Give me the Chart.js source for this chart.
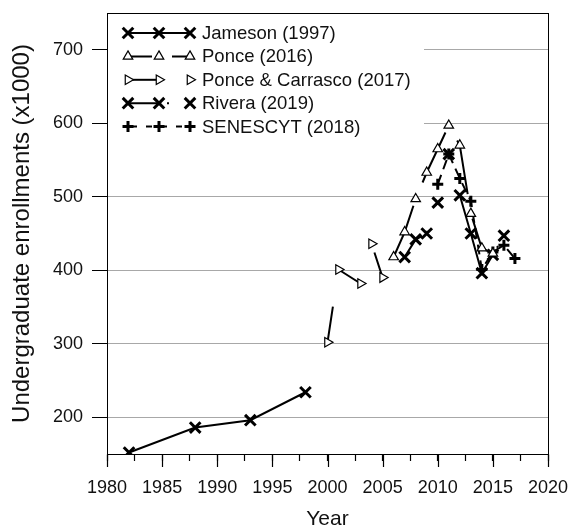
<!DOCTYPE html>
<html>
<head>
<meta charset="utf-8">
<script src="https://cdn.jsdelivr.net/npm/chart.js@4.4.1/dist/chart.umd.min.js"></script>
<style>
  html, body { margin: 0; padding: 0; background: #fff; }
  #wrap { width: 571px; height: 532px; }
</style>
</head>
<body>
<div id="wrap"><canvas id="cvs" width="571" height="532"></canvas></div>
<script>
// values (enrollments x1000)
const jamesonYears = [1982, 1988, 1993, 1998];
const jamesonValues = [152, 186, 196, 234];

const ponceYears = [2006, 2007, 2008, 2009, 2010, 2011, 2012, 2013, 2014, 2015];
const ponceValues = [418, 452, 497, 533, 565, 597, 570, 477, 430, 423];

const carrascoYears = [2000, 2001, 2003, 2004, 2005];
const carrascoValues = [302, 401, 382, 436, 390];

const riveraYears = [2007, 2008, 2009, 2010, 2011, 2012, 2013, 2014, 2015, 2016];
const riveraValues = [418, 442, 450, 492, 558, 502, 450, 396, 421, 447];

const senescytYears = [2010, 2011, 2012, 2013, 2014, 2015, 2016, 2017];
const senescytValues = [517, 558, 525, 494, 401, 425, 434, 416];

const yTicks = [200, 300, 400, 500, 600, 700];

const font = "'Liberation Sans', Arial, sans-serif";

function pts(xs, ys) {
    return xs.map((x, i) => ({ x: x, y: ys[i] }));
}

function line(label, xs, ys, extra) {
    return Object.assign({
        label: label,
        data: pts(xs, ys),
        borderColor: '#000',
        borderWidth: 2,
        pointBorderColor: '#000',
        pointBackgroundColor: '#fff',
        pointHoverRadius: 0,
        tension: 0,
        fill: false
    }, extra);
}

const datasets = [
    line('Jameson (1997)', jamesonYears, jamesonValues, {
        pointStyle: 'crossRot', pointRadius: 7.5, pointBorderWidth: 3,
        borderDash: [], legendDash: []
    }),
    line('Ponce (2016)', ponceYears, ponceValues, {
        pointStyle: 'triangle', pointRadius: 5.5, pointBorderWidth: 1.2,
        borderDash: [55, 25], legendDash: [24, 20]
    }),
    line('Ponce & Carrasco (2017)', carrascoYears, carrascoValues, {
        pointStyle: 'triangle', pointRotation: 90, pointRadius: 5.5, pointBorderWidth: 1.2,
        borderDash: [36, 38, 26, 50], legendDash: [31, 40]
    }),
    line('Rivera (2019)', riveraYears, riveraValues, {
        pointStyle: 'crossRot', pointRadius: 7.5, pointBorderWidth: 3,
        borderDash: [103, 6, 2, 124], borderDashOffset: 75, legendDash: [30, 9, 2, 30]
    }),
    line('SENESCYT (2018)', senescytYears, senescytValues, {
        pointStyle: 'cross', pointRadius: 5.5, pointBorderWidth: 3,
        borderDash: [10, 6], legendDash: [6, 9], legendOffset: -3
    })
];

// white legend box in the upper left corner of the plot
const boxLegend = {
    id: 'boxLegend',
    beforeDatasetsDraw(chart) {
        const ctx = chart.ctx;
        const a = chart.chartArea;
        ctx.save();
        ctx.fillStyle = '#fff';
        ctx.fillRect(a.left + 1, a.top + 1, 423 - a.left, 140 - a.top);
        chart.data.datasets.forEach((ds, i) => {
            const y = 33 + i * 23.4;
            ctx.strokeStyle = '#000';
            ctx.lineWidth = 2;
            ctx.setLineDash(ds.legendDash);
            ctx.lineDashOffset = ds.legendOffset || 0;
            ctx.beginPath();
            ctx.moveTo(128, y);
            ctx.lineTo(190, y);
            ctx.stroke();
            ctx.setLineDash([]);
            [128, 159, 190].forEach(x => {
                ctx.fillStyle = '#fff';
                ctx.lineWidth = ds.pointBorderWidth;
                Chart.helpers.drawPoint(ctx, {
                    pointStyle: ds.pointStyle,
                    radius: ds.pointRadius,
                    rotation: ds.pointRotation || 0,
                    borderWidth: ds.pointBorderWidth
                }, x, y);
            });
            ctx.fillStyle = '#111';
            ctx.font = '18.5px ' + font;
            ctx.textBaseline = 'middle';
            ctx.textAlign = 'left';
            ctx.fillText(ds.label, 202, y + 1);
        });
        ctx.restore();
    }
};

// long ticks every 5 years and the closed frame
const frame = {
    id: 'frame',
    afterDraw(chart) {
        const sx = chart.scales.x;
        const a = chart.chartArea;
        const ctx = chart.ctx;
        ctx.save();
        ctx.strokeStyle = '#000';
        ctx.lineWidth = 1.2;
        sx.ticks.forEach(t => {
            if (t.value % 5 !== 0) return;
            const px = Math.round(sx.getPixelForValue(t.value)) + 0.5;
            ctx.beginPath();
            ctx.moveTo(px, a.bottom);
            ctx.lineTo(px, a.bottom + 13);
            ctx.stroke();
        });
        ctx.lineWidth = 1;
        ctx.strokeRect(a.left + 0.5, a.top + 0.5, a.right - a.left, a.bottom - a.top);
        ctx.restore();
    }
};

new Chart(document.getElementById('cvs'), {
    type: 'line',
    data: { datasets: datasets },
    options: {
        responsive: false,
        animation: false,
        devicePixelRatio: 1,
        layout: { padding: { top: 13, right: 23, left: 0, bottom: 0 } },
        plugins: {
            legend: { display: false },
            tooltip: { enabled: false }
        },
        scales: {
            x: {
                type: 'linear',
                min: 1980,
                max: 2020,
                afterFit: s => { s.height = 78; s.paddingLeft = 0; s.paddingRight = 0; },
                ticks: {
                    stepSize: 2.5,
                    autoSkip: false,
                    maxRotation: 0,
                    padding: 16,
                    color: '#111',
                    font: { family: font, size: 18 },
                    callback: v => (v % 5 === 0 ? String(v) : '')
                },
                grid: { drawOnChartArea: false, tickLength: 7, tickColor: '#000', tickWidth: 1.2 },
                border: { color: '#000', width: 1 },
                title: {
                    display: true, text: 'Year', color: '#111',
                    font: { family: font, size: 21 }, padding: { top: 0, bottom: 0 }
                }
            },
            y: {
                min: 150,
                max: 750,
                afterFit: s => { s.width = 107; s.paddingTop = 0; s.paddingBottom = 0; },
                afterBuildTicks: s => { s.ticks = yTicks.map(v => ({ value: v })); },
                ticks: {
                    padding: 9,
                    color: '#111',
                    font: { family: font, size: 18 }
                },
                grid: { color: '#a8a8a8', tickColor: '#000', tickLength: 15, lineWidth: 1 },
                border: { color: '#000', width: 1 },
                title: {
                    display: true, text: 'Undergraduate enrollments (x1000)', color: '#111',
                    font: { family: font, size: 24 }, padding: { top: 8, bottom: 0 }
                }
            }
        }
    },
    plugins: [boxLegend, frame]
});
</script>
</body>
</html>
